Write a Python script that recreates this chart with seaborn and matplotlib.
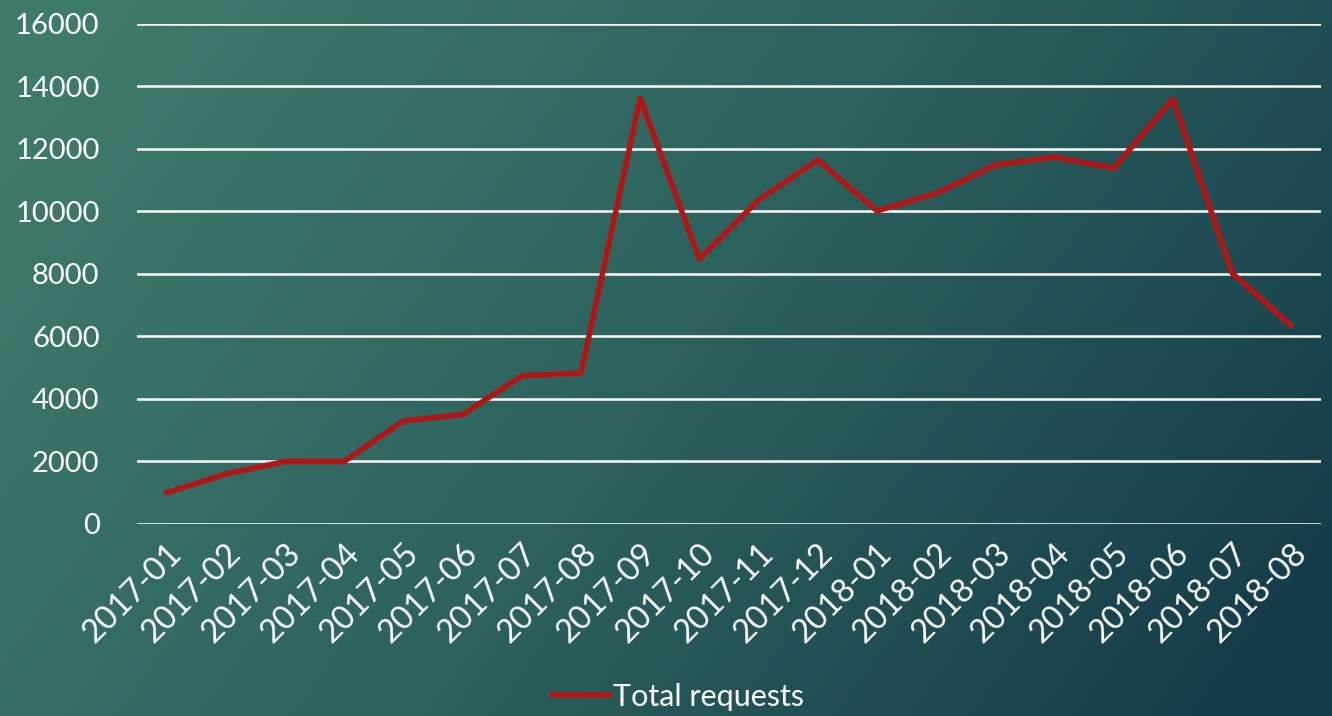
import numpy as np
import pandas as pd
import matplotlib.pyplot as plt
import seaborn as sns
from matplotlib.colors import LinearSegmentedColormap

months = ['2017-01', '2017-02', '2017-03', '2017-04', '2017-05', '2017-06',
          '2017-07', '2017-08', '2017-09', '2017-10', '2017-11', '2017-12',
          '2018-01', '2018-02', '2018-03', '2018-04', '2018-05', '2018-06',
          '2018-07', '2018-08']
total_requests = [1000, 1600, 2000, 2000, 3300, 3500, 4740, 4830, 13620, 8480,
                  10370, 11650, 10020, 10580, 11490, 11740, 11390, 13600,
                  8030, 6340]
y_ticks = [0, 2000, 4000, 6000, 8000, 10000, 12000, 14000, 16000]

df = pd.DataFrame({'month': months, 'Total requests': total_requests})

sns.set_theme(style='white')
plt.rcParams['font.family'] = ['Lato', 'DejaVu Sans']

LINE = '#b01616'
TXT = 'white'

fig = plt.figure(figsize=(13.32, 7.16), dpi=100)

# gradient background
bg = fig.add_axes([0, 0, 1, 1], zorder=-10)
gx, gy = np.meshgrid(np.linspace(0, 1, 400), np.linspace(0, 1, 220))
t = np.clip(0.78 * gx + 0.30 * gy - 0.05, 0, 1)
cmap = LinearSegmentedColormap.from_list('bg', ['#3f7b6d', '#2c615d', '#133a48'])
bg.imshow(t, cmap=cmap, aspect='auto', extent=[0, 1, 0, 1], origin='upper')
bg.axis('off')

ax = fig.add_axes([0.1029, 0.2682, 0.8888, 0.6983])
ax.patch.set_alpha(0)
sns.lineplot(data=df, x='month', y='Total requests', ax=ax, sort=False,
             color=LINE, lw=4.0, label='Total requests', zorder=3)

ax.set_ylim(0, 16000)
ax.set_xlim(-0.5, len(months) - 0.5)
ax.set_yticks(y_ticks)
ax.set_yticklabels([str(v) for v in y_ticks])
ax.yaxis.grid(True, color='white', lw=1.8)
ax.xaxis.grid(False)
for s in ax.spines.values():
    s.set_visible(False)
ax.set_xlabel('')
ax.set_ylabel('')
ax.tick_params(axis='y', colors=TXT, labelsize=21, length=0, pad=27)
ax.tick_params(axis='x', colors=TXT, labelsize=23.5, length=0, pad=10)
plt.setp(ax.get_xticklabels(), rotation=45, ha='right', rotation_mode='anchor')

ax.legend(loc='center', bbox_to_anchor=(0.509, 0.027),
          bbox_transform=fig.transFigure, frameon=False,
          fontsize=22, handlelength=1.9, handletextpad=0.1,
          labelcolor=TXT, borderpad=0)

fig.savefig('out.png', dpi=100)
